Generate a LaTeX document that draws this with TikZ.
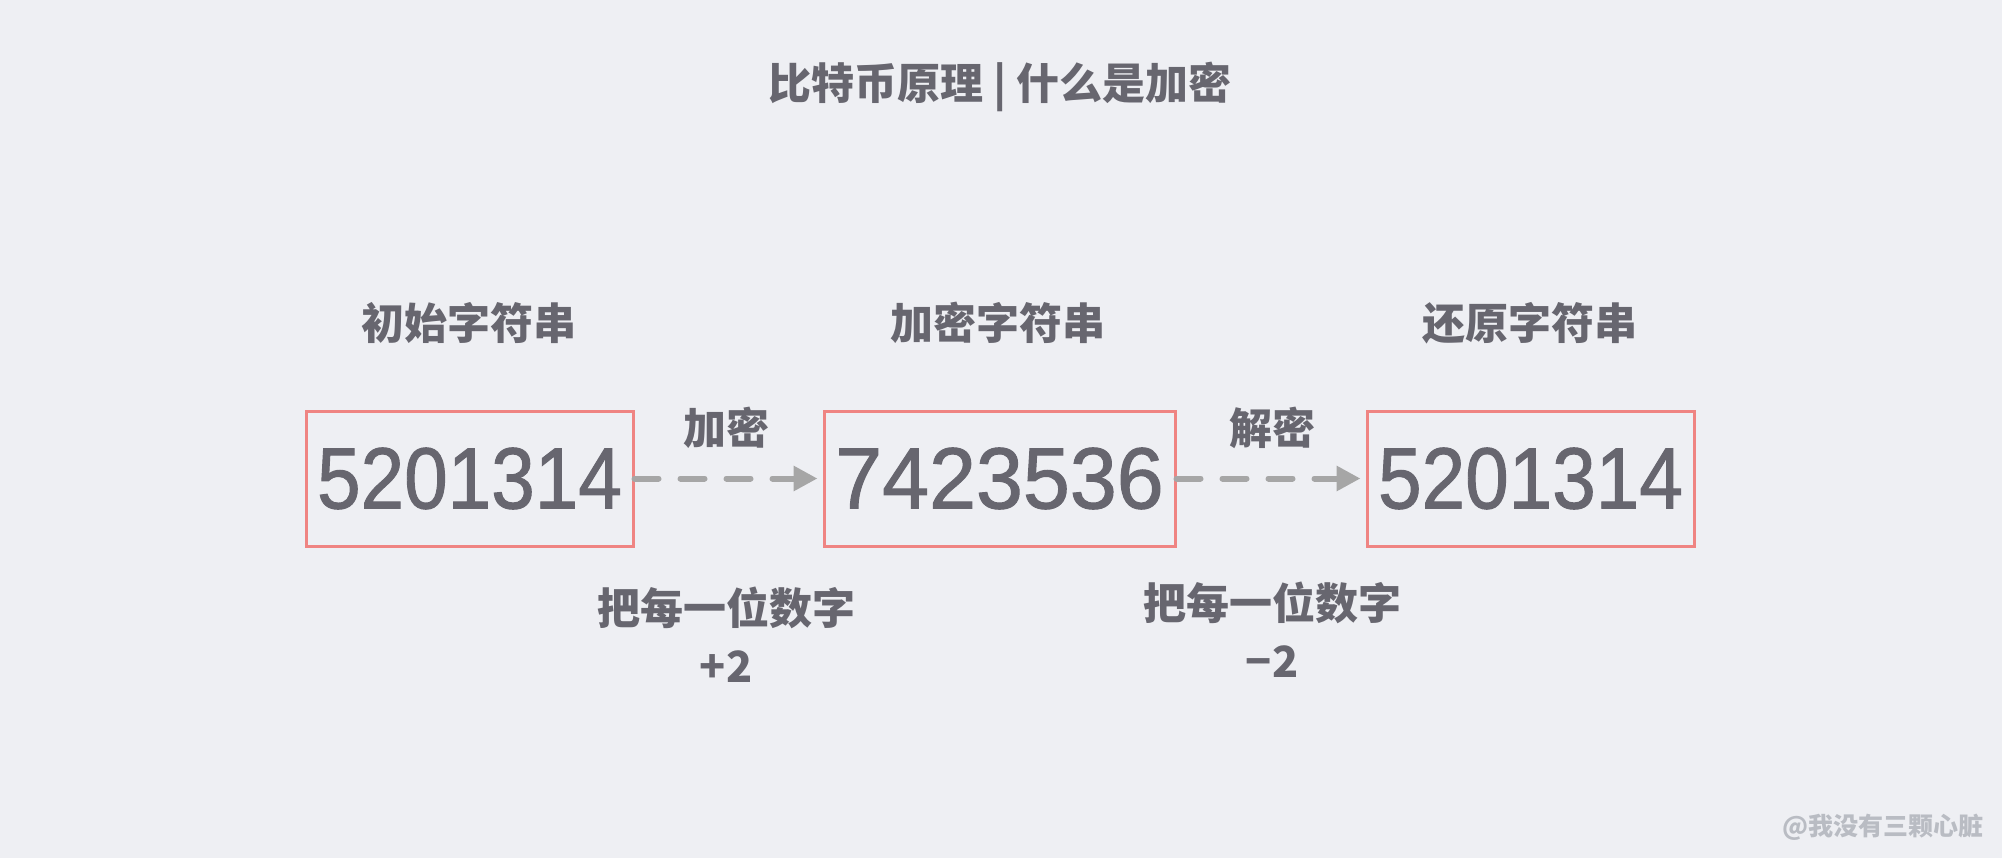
\documentclass[tikz,border=0pt]{standalone}
\usepackage{fontspec}
\setmainfont{Liberation Sans}
\newfontfamily\cjk{Noto Sans CJK SC}
\newfontfamily\numfont{Liberation Sans}[FakeBold=1.2]
\usetikzlibrary{arrows.meta}
\definecolor{bgc}{HTML}{EEEFF3}
\definecolor{txt}{HTML}{67666F}
\definecolor{boxc}{HTML}{EF8482}
\definecolor{arrc}{HTML}{A6A6A6}
\definecolor{wmc}{HTML}{B9BCC3}
\tikzset{
  numbox/.style={draw=boxc, line width=3pt, minimum width=327pt, minimum height=135pt, inner sep=0pt, text=txt, font=\numfont\fontsize{87}{96}\selectfont},
  lbl/.style={text=txt, font=\cjk\bfseries\fontsize{43}{58}\selectfont, inner sep=0pt, align=center},
  flow/.style={draw=arrc, line width=6pt, line cap=round, dash pattern=on 24pt off 22pt, -{Triangle[length=24pt,width=24pt,line cap=butt]}, shorten >=5pt}
}
\begin{document}
\begin{tikzpicture}[x=1pt,y=-1pt]
\fill[bgc] (0,0) rectangle (2002,858);
\useasboundingbox (0,0) rectangle (2002,858);
\node[lbl] (title) at (1000,87) {比特币原理 | 什么是加密};
\node[numbox] (b1) at (469.5,478.5) {\scalebox{0.9}[1]{5201314}};
\node[numbox, minimum width=351pt] (b2) at (999.5,478.5) {\scalebox{0.97}[1]{7423536}};
\node[numbox] (b3) at (1530.5,478.5) {\scalebox{0.9}[1]{5201314}};
\node[lbl] (t1) at (469,323) {初始字符串};
\node[lbl] (t2) at (998,323) {加密字符串};
\node[lbl] (t3) at (1530,323) {还原字符串};
\draw[flow] (b1.east) -- (b2.west);
\draw[flow] (b2.east) -- (b3.west);
\node[lbl] (e1) at (726,428) {加密};
\node[lbl] (d1) at (1272,428) {解密};
\node[lbl] (e2) at (726,635) {把每一位数字\\+2};
\node[lbl] (d2) at (1272,630) {把每一位数字\\−2};
\node[text=wmc, font=\cjk\bfseries\fontsize{25}{30}\selectfont, inner sep=0pt] (wm) at (1883,827) {@我没有三颗心脏};
\end{tikzpicture}
\end{document}
